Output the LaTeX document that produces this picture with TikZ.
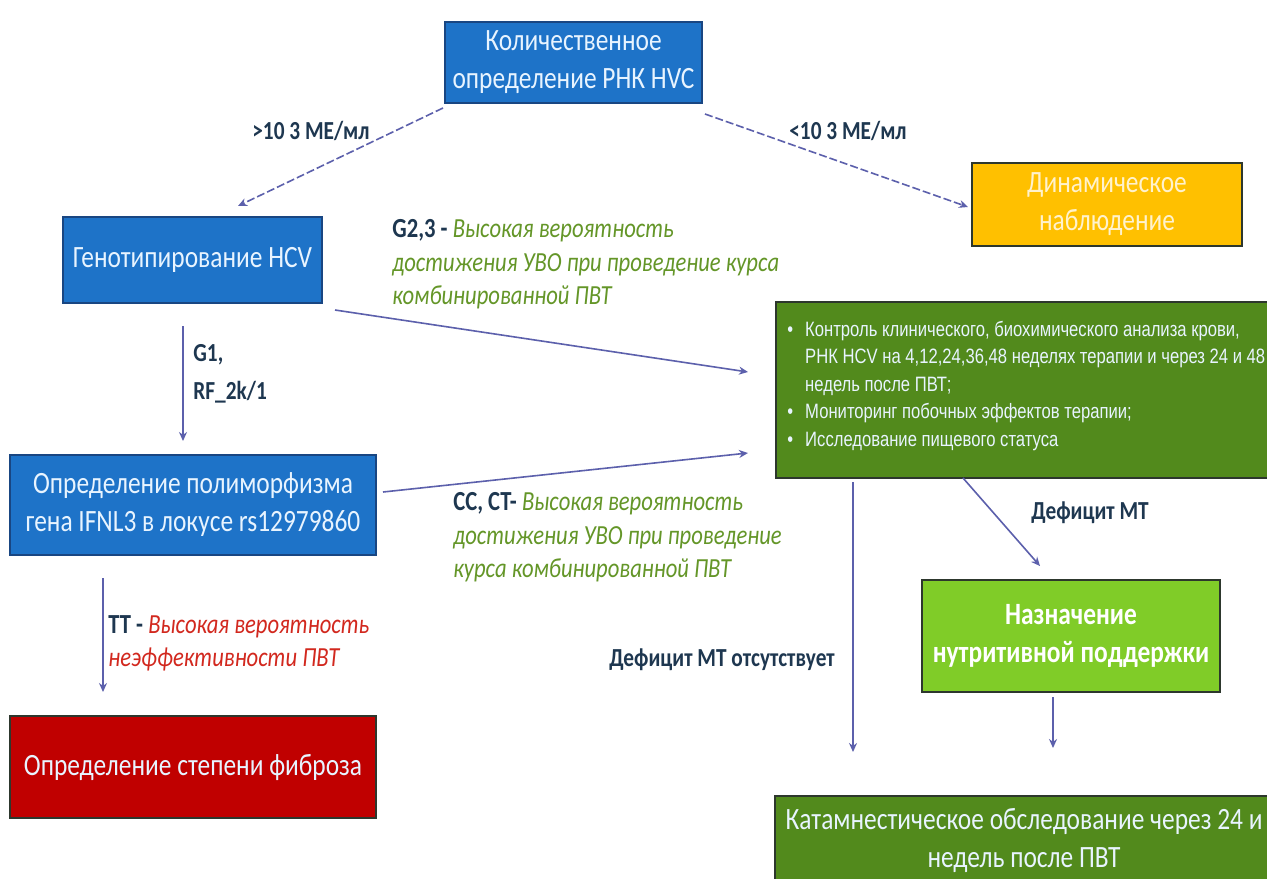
\documentclass[tikz,border=0pt]{standalone}
\usepackage{fontspec}
\setmainfont{Carlito}
\newfontfamily\cond[FakeStretch=0.82]{Carlito}
\newfontfamily\narrow[FakeStretch=0.8]{Liberation Sans}
\usetikzlibrary{arrows.meta}
\definecolor{boxblue}{RGB}{30,115,200}
\definecolor{boxblueedge}{RGB}{25,70,130}
\definecolor{boxyellow}{RGB}{255,192,0}
\definecolor{boxgreen}{RGB}{82,138,28}
\definecolor{boxlime}{RGB}{128,204,40}
\definecolor{boxred}{RGB}{192,0,0}
\definecolor{darkedge}{RGB}{45,55,45}
\definecolor{arrowcol}{RGB}{92,96,172}
\definecolor{labcol}{RGB}{30,55,80}
\definecolor{greentxt}{RGB}{100,150,40}
\definecolor{redtxt}{RGB}{210,40,30}
\definecolor{lighttxt}{RGB}{232,244,255}
\definecolor{yellowtxt}{RGB}{255,242,205}
\tikzset{
  box/.style={rectangle, draw=boxblueedge, line width=1pt, inner sep=2pt, align=center,
    text=lighttxt, font=\cond\fontsize{15.5}{19}\selectfont},
  bluebox/.style={box, fill=boxblue},
  conn/.style={draw=arrowcol, line width=0.8pt, -{Stealth[length=4.5pt,width=4pt]}},
  dconn/.style={conn, dash pattern=on 4pt off 1.5pt},
  lab/.style={text=labcol, font=\cond\bfseries\fontsize{13}{16}\selectfont, inner sep=0pt},
  itlab/.style={font=\cond\fontsize{13.8}{16.8}\selectfont, inner sep=0pt, align=left, anchor=north west}
}
\begin{document}
\begin{tikzpicture}[x=0.5pt,y=-0.5pt]
\clip (0,0) rectangle (1267,878);
\fill[white] (0,0) rectangle (1267,878);
% boxes
\node[bluebox, minimum width=128.5pt, minimum height=40.5pt] (top) at (573.5,62.5)
  {Количественное\\определение РНК HVC};
\node[bluebox, minimum width=129.5pt, minimum height=43pt] (geno) at (192.5,260)
  {Генотипирование HCV};
\node[box, fill=boxyellow, draw=darkedge, text=yellowtxt, minimum width=135pt, minimum height=41.5pt] (dyn) at (1107,204.5)
  {Динамическое\\наблюдение};
\node[box, fill=boxgreen, draw=darkedge, minimum width=257pt, minimum height=88pt] (ctrl) at (1033,390) {};
\node[anchor=north west, inner sep=0pt, text=lighttxt, font=\narrow\fontsize{10.4}{13.7}\selectfont, align=left] (ctrltxt) at (787,317)
  {\begin{tabular}{@{}l@{\hspace{6pt}}l@{}}
   • & Контроль клинического, биохимического анализа крови,\\
     & РНК HCV на 4,12,24,36,48 неделях терапии и через 24 и 48\\
     & недель после ПВТ;\\
   • & Мониторинг побочных эффектов терапии;\\
   • & Исследование пищевого статуса
   \end{tabular}};
\node[bluebox, minimum width=183pt, minimum height=50pt] (poly) at (193,505)
  {Определение полиморфизма\\гена IFNL3 в локусе rs12979860};
\node[box, fill=boxred, draw=darkedge, minimum width=183pt, minimum height=51pt] (fib) at (193,767)
  {Определение степени фиброза};
\node[box, fill=boxlime, draw=darkedge, text=white, font=\cond\bfseries\fontsize{15.5}{19}\selectfont,
  minimum width=149pt, minimum height=56pt] (nutr) at (1071,636)
  {Назначение\\нутритивной поддержки};
\node[box, fill=boxgreen, draw=darkedge, minimum width=257.5pt, minimum height=47pt] (kat) at (1032.5,843) {};
\node[text=lighttxt, font=\cond\fontsize{15.5}{19}\selectfont, align=center, inner sep=0pt] (kattxt) at (1024,840)
  {Катамнестическое обследование через 24 и\\недель после ПВТ};
% free ends
\coordinate (a1s) at (443,108);  \coordinate (a1e) at (238,206);
\coordinate (a2s) at (705,114);  \coordinate (a2e) at (968,207);
\coordinate (a3s) at (335,310);  \coordinate (a3e) at (748,372);
\coordinate (a4s) at (383,492);  \coordinate (a4e) at (748,453);
\coordinate (a5s) at (183,326);  \coordinate (a5e) at (183,441);
\coordinate (a6s) at (103,578);  \coordinate (a6e) at (103,692);
\coordinate (a7s) at (853,482);  \coordinate (a7e) at (853,752);
\coordinate (a8s) at (963,478);  \coordinate (a8e) at (1040,566);
\coordinate (a9s) at (1053,697); \coordinate (a9e) at (1053,748);
% connectors
\draw[dconn] (a1s) -- (a1e);
\draw[dconn] (a2s) -- (a2e);
\draw[conn] (a3s) -- (a3e);
\draw[conn] (a4s) -- (a4e);
\draw[conn] (a5s) -- (a5e);
\draw[conn] (a6s) -- (a6e);
\draw[conn] (a7s) -- (a7e);
\draw[conn] (a8s) -- (a8e);
\draw[conn] (a9s) -- (a9e);
% labels
\node[lab] (l1) at (311,131) {>10 3 МЕ/мл};
\node[lab] (l2) at (848,131) {<10 3 МЕ/мл};
\node[itlab] (l3) at (392,219) {{\bfseries\color{labcol}G2,3 -} {\itshape\color{greentxt}Высокая вероятность}\\
  {\itshape\color{greentxt}достижения УВО при проведение курса}\\
  {\itshape\color{greentxt}комбинированной ПВТ}};
\node[itlab, font=\cond\bfseries\fontsize{13}{19}\selectfont, text=labcol] (l4) at (193,344) {G1,\\RF\_2k/1};
\node[itlab] (l5) at (453,492) {{\bfseries\color{labcol}CC, CT-} {\itshape\color{greentxt}Высокая вероятность}\\
  {\itshape\color{greentxt}достижения УВО при проведение}\\
  {\itshape\color{greentxt}курса комбинированной ПВТ}};
\node[itlab] (l6) at (108,615) {{\bfseries\color{labcol}TT -} {\itshape\color{redtxt}Высокая вероятность}\\
  {\itshape\color{redtxt}неэффективности ПВТ}};
\node[lab] (l7) at (1090,513) {Дефицит МТ};
\node[lab] (l8) at (722,660) {Дефицит МТ отсутствует};
\end{tikzpicture}
\end{document}
